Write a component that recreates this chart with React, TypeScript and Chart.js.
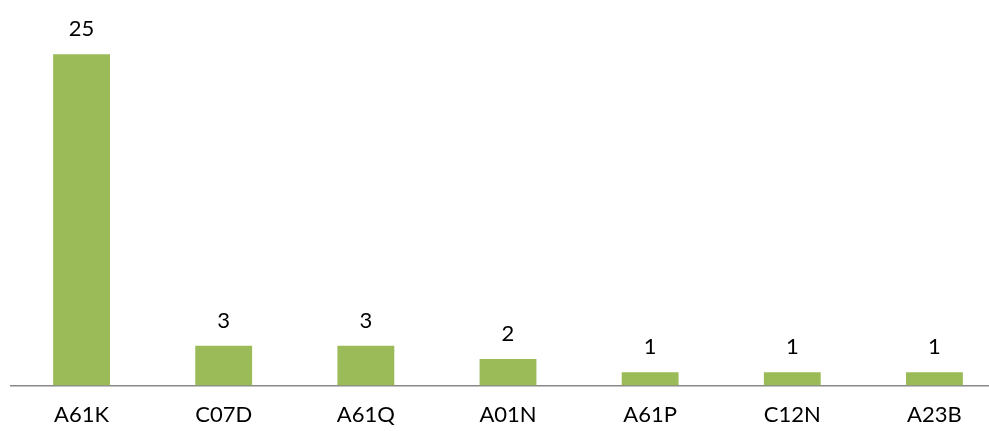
import React, { useEffect, useRef } from "react";
import { Chart, registerables } from "chart.js";

Chart.register(...registerables);

const categories: string[] = ["A61K", "C07D", "A61Q", "A01N", "A61P", "C12N", "A23B"];
const counts: number[] = [25, 3, 3, 2, 1, 1, 1];

const BAR_COLOR = "#9BBB59";
const AXIS_COLOR = "#888888";
const FONT_FAMILY = "Lato, 'Open Sans', sans-serif";
const FONT_SIZE = 22;

// Writes each bar's count above it.
const valueLabels = {
  id: "valueLabels",
  afterDatasetsDraw(chart: Chart) {
    const { ctx } = chart;
    const meta = chart.getDatasetMeta(0);
    const data = chart.data.datasets[0].data as number[];
    ctx.save();
    ctx.font = `${FONT_SIZE}px ${FONT_FAMILY}`;
    ctx.fillStyle = "#000000";
    ctx.textAlign = "center";
    ctx.textBaseline = "alphabetic";
    meta.data.forEach((bar: any, i: number) => {
      ctx.fillText(String(data[i]), bar.x, bar.y - 18);
    });
    ctx.restore();
  },
};

export default function App() {
  const canvasRef = useRef<HTMLCanvasElement | null>(null);

  useEffect(() => {
    if (!canvasRef.current) return;
    const chart = new Chart(canvasRef.current, {
      type: "bar",
      data: {
        labels: categories,
        datasets: [
          {
            data: counts,
            backgroundColor: BAR_COLOR,
            borderWidth: 0,
            barPercentage: 0.4,
            categoryPercentage: 1,
          },
        ],
      },
      options: {
        animation: false,
        responsive: true,
        maintainAspectRatio: false,
        layout: { padding: { left: 10.5, right: 10.5, top: 14.6, bottom: -13 } },
        plugins: {
          legend: { display: false },
          tooltip: { enabled: false },
        },
        scales: {
          x: {
            grid: { display: false, drawTicks: false },
            border: { display: true, color: AXIS_COLOR, width: 1.5 },
            ticks: {
              color: "#000000",
              font: { family: FONT_FAMILY, size: FONT_SIZE },
              padding: 16,
              maxRotation: 0,
            },
          },
          y: {
            display: false,
            min: 0,
            max: 28,
          },
        },
      },
      plugins: [valueLabels],
    });
    return () => chart.destroy();
  }, []);

  return (
    <div
      style={{
        position: "fixed",
        left: 0,
        top: 0,
        width: 1016,
        height: 431,
        background: "#ffffff",
      }}
    >
      <canvas ref={canvasRef} />
    </div>
  );
}
